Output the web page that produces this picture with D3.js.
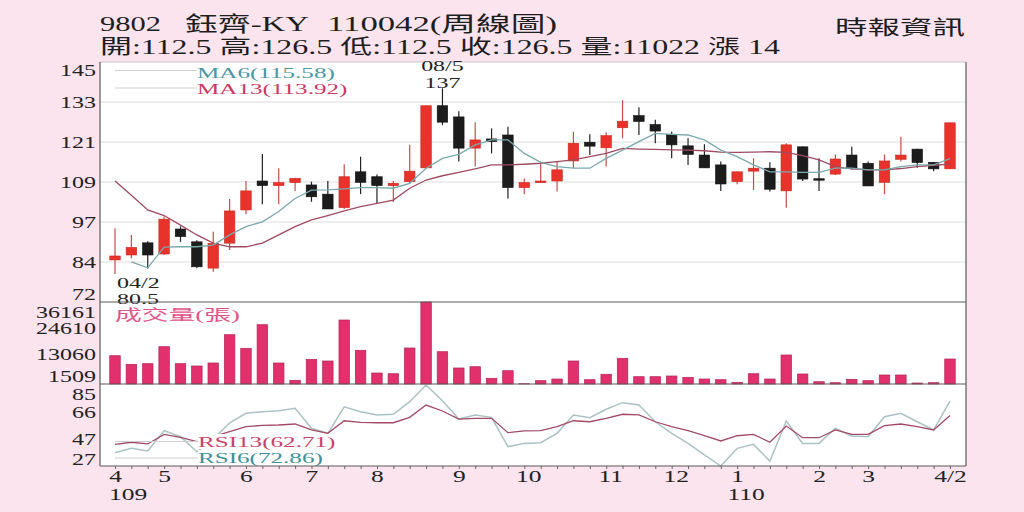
<!DOCTYPE html>
<html><head><meta charset="utf-8">
<script src="https://cdn.jsdelivr.net/npm/d3@7"></script>
<style>html,body{margin:0;padding:0;background:#fce4ee;} svg{display:block}</style>
</head><body><svg id="c" width="1024" height="512"></svg>
<script>
// ---------- data ----------
const openP = [84.8, 86.3, 90.0, 86.6, 94.2, 90.3, 82.3, 89.9, 100.0, 108.8,
 107.4, 108.3, 107.6, 104.8, 100.7, 111.6, 110.1, 107.4, 108.6, 112.8,
 131.7, 128.3, 118.8, 121.6, 122.8, 106.8, 108.3, 108.8, 114.9, 120.6,
 118.9, 125.0, 128.7, 126.0, 123.0, 119.5, 116.7, 113.7, 108.6, 111.8,
 112.7, 105.8, 119.2, 109.5, 110.9, 116.7, 114.2, 108.4, 115.4, 118.5,
 114.5, 112.5];
const highP = [94.4, 92.4, 90.5, 98.0, 95.0, 90.8, 93.4, 103.3, 108.8, 117.0,
 112.7, 109.8, 108.6, 108.8, 113.9, 116.2, 110.8, 108.8, 119.8, 131.7,
 137.0, 130.0, 126.7, 124.8, 125.3, 109.6, 114.7, 114.9, 123.8, 123.0,
 123.6, 133.4, 131.2, 127.4, 123.8, 121.8, 120.0, 114.7, 111.6, 115.7,
 114.5, 120.3, 119.3, 115.7, 116.9, 119.2, 114.7, 116.9, 122.3, 118.6,
 114.5, 126.5];
const lowP = [80.5, 85.3, 82.2, 86.3, 90.3, 82.3, 81.2, 87.8, 98.7, 101.7,
 101.7, 105.8, 102.5, 100.3, 100.3, 104.8, 102.0, 102.4, 108.1, 112.8,
 125.8, 114.7, 113.2, 117.2, 103.5, 104.8, 108.3, 105.6, 112.7, 116.7,
 113.2, 121.8, 122.8, 120.3, 115.7, 113.7, 112.8, 105.8, 107.8, 106.1,
 105.6, 100.7, 108.8, 105.8, 110.6, 112.2, 107.3, 104.8, 114.7, 112.8,
 111.8, 112.5];
const closeP = [86.0, 88.6, 86.3, 97.2, 91.9, 82.7, 89.8, 99.7, 105.8, 107.4,
 108.3, 109.6, 104.0, 100.3, 110.1, 108.4, 107.4, 108.1, 111.8, 131.7,
 126.7, 118.8, 121.3, 120.8, 106.8, 108.3, 108.8, 112.2, 120.3, 119.4,
 122.6, 127.0, 126.9, 124.0, 119.8, 116.9, 112.8, 107.9, 111.6, 112.7,
 106.3, 119.8, 109.4, 109.4, 115.5, 112.7, 107.3, 114.9, 116.7, 114.4,
 112.5, 126.5];
const volume = [12480, 8680, 8960, 16450, 8960, 7940, 9260, 21740, 15740, 26150,
 9260, 1630, 10890, 10140, 28220, 14860, 4850, 4540, 15880, 36161,
 14240, 7060, 7630, 2510, 5870, 120, 1460, 2200, 10140, 1900,
 4280, 11330, 3220, 3220, 3530, 2940, 2200, 1900, 750, 4540,
 2200, 12790, 4410, 1010, 570, 2070, 1460, 3970, 3970, 440,
 570, 11022];
const ma6 = [null, 84.2, 82.4, 88.7, 88.8, 88.8, 89.3, 92.4, 94.9, 96.4,
 99.5, 103.5, 106.0, 106.1, 106.4, 106.8, 106.8, 106.6, 108.1, 112.7,
 115.7, 116.9, 119.8, 121.3, 121.3, 117.2, 114.5, 113.2, 112.7, 112.7,
 115.7, 118.2, 120.8, 123.3, 123.0, 122.8, 121.3, 118.2, 116.2, 113.7,
 111.6, 111.6, 111.4, 111.4, 112.7, 112.7, 112.2, 112.2, 113.2, 113.7,
 113.7, 115.58];
const ma13 = [108.8, 104.5, 100.0, 98.3, 95.4, 92.4, 89.9, 88.8, 88.8, 89.9,
 92.4, 94.9, 97.0, 98.3, 99.7, 101.0, 102.0, 103.0, 106.6, 109.1,
 110.4, 111.4, 112.5, 113.7, 113.7, 113.9, 114.2, 114.7, 115.2, 116.2,
 117.2, 118.7, 118.5, 118.4, 118.3, 118.2, 118.0, 117.6, 117.5, 117.6,
 117.7, 117.5, 116.5, 115.2, 113.2, 112.5, 112.2, 112.2, 112.6, 113.2,
 113.6, 113.92];
const rsi13 = [42.3, 43.8, 42.6, 49.4, 47.3, 44.2, 47.7, 51.3, 54.8, 55.8,
 56.0, 56.7, 52.5, 50.1, 59.0, 57.9, 57.6, 57.6, 61.4, 70.1,
 65.9, 60.2, 60.7, 60.7, 50.6, 51.8, 52.0, 54.8, 59.0, 58.3,
 60.7, 63.6, 63.1, 58.3, 54.8, 52.0, 48.4, 44.7, 48.4, 49.4,
 43.8, 55.3, 47.0, 47.0, 52.5, 49.4, 49.4, 55.5, 56.7, 54.8,
 52.5, 62.71];
const rsi6 = [36.4, 39.5, 37.6, 52.0, 47.7, 37.1, 46.0, 57.6, 64.3, 65.4,
 66.1, 67.8, 53.7, 50.1, 68.9, 65.4, 63.1, 63.6, 72.5, 84.3,
 73.2, 60.2, 63.1, 61.4, 40.7, 43.0, 43.5, 50.1, 63.1, 61.2,
 67.1, 71.8, 70.1, 58.3, 50.1, 43.0, 34.8, 27.0, 39.5, 42.3,
 30.5, 58.8, 43.0, 43.0, 53.7, 48.2, 47.7, 61.9, 64.3, 58.3,
 52.5, 72.86];
const priceTickLabels = ["72", "84", "97", "109", "121", "133", "145"];
const volTicks = [1509, 13060, 24610, 36161];
const rsiTicks = [27, 47, 66, 85];
const monthLabels = ["4", "5", "6", "7", "8", "9", "10", "11", "12", "1", "2", "3", "4/2"];
const monthWeek = [0, 3, 8, 12, 16, 21, 25, 30, 34, 38, 43, 46, 51];
const yearLabels = ["109", "110"];
const yearWeek = [0, 38];
const titleParts = ["9802", "鈺齊-KY", "110042(周線圖)"];
const infoLine = "開:112.5 高:126.5 低:112.5 收:126.5 量:11022 漲 14";
const source = "時報資訊";
const lowMark = {week: 0, date: "04/2", value: "80.5"};
const highMark = {week: 20, date: "08/5", value: "137"};
const legendMA = [{name: "MA6(115.58)", color: "#4b97a2"}, {name: "MA13(113.92)", color: "#cc3a64"}];
const legendRSI = [{name: "RSI13(62.71)", color: "#c8416c"}, {name: "RSI6(72.86)", color: "#3f8f99"}];

// ---------- layout ----------
const L = 100, R = 966, T = 62, P1 = 302, P2 = 384, B = 466;
const FONT = "'Liberation Serif','Times New Roman','Noto Sans CJK TC',serif";
const SX = 1.5;
const n = closeP.length;
const svg = d3.select("#c").attr("font-family", FONT);

const x = d3.scaleLinear().domain([0, n - 1]).range([115, 950]);
const yP = d3.scaleLinear().domain([72, 145]).range([P1, T]);
const yV = d3.scaleLinear().domain([0, 36161]).range([P2, P1]);
const yR = d3.scaleLinear().domain([27, 85]).range([B, P2]).clamp(true);
const priceTickVals = d3.range(priceTickLabels.length).map(i => 72 + i * (145 - 72) / (priceTickLabels.length - 1));

svg.append("rect").attr("width", 1024).attr("height", 512).attr("fill", "#fce4ee");
svg.append("rect").attr("x", L).attr("y", T).attr("width", R - L).attr("height", B - T).attr("fill", "#fff");

// grid lines (price)
svg.append("g").selectAll("line").data(priceTickVals.slice(1)).join("line")
  .attr("x1", L).attr("x2", R).attr("y1", d => yP(d)).attr("y2", d => yP(d))
  .attr("stroke", d => d === priceTickVals[priceTickVals.length - 1] ? "#c8c8c8" : "#dedede").attr("stroke-width", 1);

// ---------- header ----------
function stretchText(px, py, s, len, size, fill) {
  return svg.append("text").attr("x", px).attr("y", py).attr("font-size", size)
    .attr("fill", fill || "#1e1e1e").attr("textLength", len).attr("lengthAdjust", "spacingAndGlyphs").text(s);
}
stretchText(100, 31, titleParts[0], 61, 21);
stretchText(185, 31, titleParts[1], 124, 21);
stretchText(327, 31, titleParts[2], 230, 21);
stretchText(100, 54, infoLine, 680, 20);
stretchText(835, 35, source, 130, 20);

// ---------- axes ----------
function styleLeftAxis(g, lo, hi, off) {
  g.select(".domain").remove();
  g.selectAll(".tick text")
    .attr("x", 0).attr("dy", "0.35em").attr("font-size", 16).attr("fill", "#222").attr("font-family", FONT)
    .attr("transform", function () {
      const ty = +this.parentNode.getAttribute("transform").match(/,([\-\d.]+)/)[1];
      const shift = Math.max(lo, Math.min(hi, ty)) - ty + (off || 0);
      return `translate(-4,${shift}) scale(${SX},1)`;
    });
}
svg.append("g").attr("transform", `translate(${L},0)`)
  .call(d3.axisLeft(yP).tickValues(priceTickVals).tickFormat((d, i) => priceTickLabels[i]).tickSize(0))
  .call(g => styleLeftAxis(g, 70, 294, 0));
svg.append("g").attr("transform", `translate(${L},0)`)
  .call(d3.axisLeft(yV).tickValues(volTicks).tickFormat(d3.format("d")).tickSize(0))
  .call(g => styleLeftAxis(g, 312, 376, 0));
svg.append("g").attr("transform", `translate(${L},0)`)
  .call(d3.axisLeft(yR).tickValues(rsiTicks).tickFormat(d3.format("d")).tickSize(0))
  .call(g => styleLeftAxis(g, 393, 458, 1.5));

// weekly ticks
svg.append("g").attr("transform", `translate(0,${B})`)
  .call(d3.axisBottom(x).tickValues(d3.range(n)).tickSize(3).tickFormat(""))
  .call(g => { g.select(".domain").remove(); g.selectAll(".tick line").attr("stroke", "#666"); });
// month labels
svg.append("g").attr("transform", `translate(0,${B})`)
  .call(d3.axisBottom(x).tickValues(monthWeek).tickSize(0).tickFormat((d, i) => monthLabels[i]))
  .call(g => {
    g.select(".domain").remove();
    g.selectAll(".tick text").attr("y", 0).attr("dy", 0).attr("font-size", 17).attr("fill", "#222")
      .attr("font-family", FONT)
      .attr("transform", (d, i) => `translate(${monthLabels[i].length === 2 ? 4 : 0},16) scale(${SX},1)`);
  });
svg.append("g").selectAll("text").data(yearLabels).join("text")
  .attr("transform", (d, i) => `translate(${x(yearWeek[i]) + (i === 0 ? 13 : 9)},500) scale(${SX},1)`)
  .attr("text-anchor", "middle").attr("font-size", 17).attr("fill", "#222").text(d => d);

// ---------- candles ----------
const cw = 10.5;
const cg = svg.append("g");
const idx = d3.range(n);
const up = i => closeP[i] >= openP[i];
cg.selectAll("line.w").data(idx).join("line").attr("class", "w")
  .attr("x1", i => x(i)).attr("x2", i => x(i))
  .attr("y1", i => yP(highP[i])).attr("y2", i => yP(lowP[i]))
  .attr("stroke", i => up(i) ? "#c0504a" : "#222").attr("stroke-width", 1.2);
cg.selectAll("rect").data(idx).join("rect")
  .attr("x", i => x(i) - cw / 2).attr("width", cw)
  .attr("y", i => Math.min(yP(openP[i]), yP(closeP[i])))
  .attr("height", i => Math.max(1.5, Math.abs(yP(openP[i]) - yP(closeP[i]))))
  .attr("fill", i => up(i) ? "#e8322b" : "#1c1c1c")
  .attr("stroke", i => up(i) ? "#c9281f" : "#111").attr("stroke-width", 0.6);

// MA lines
const lineP = d3.line().defined(d => d[1] != null).x(d => x(d[0])).y(d => yP(d[1]));
svg.append("path").datum(ma13.map((v, i) => [i, v])).attr("d", lineP)
  .attr("fill", "none").attr("stroke", "#a04a62").attr("stroke-width", 1.3);
svg.append("path").datum(ma6.map((v, i) => [i, v])).attr("d", lineP)
  .attr("fill", "none").attr("stroke", "#7aa9ad").attr("stroke-width", 1.3);

// MA legend
legendMA.forEach((d, k) => {
  const ly = [70.5, 88][k];
  svg.append("line").attr("x1", 115).attr("x2", 197).attr("y1", ly).attr("y2", ly).attr("stroke", "#cfcfcf");
  svg.append("text").attr("transform", `translate(197,${[77.5, 94][k]}) scale(1.62,1)`)
    .attr("font-size", 15.5).attr("fill", d.color).text(d.name);
});

// high / low marks
svg.append("text").attr("transform", `translate(${x(highMark.week)},71) scale(1.6,1)`)
  .attr("text-anchor", "middle").attr("font-size", 15).attr("fill", "#222").text(highMark.date);
svg.append("text").attr("transform", `translate(${x(highMark.week)},87.5) scale(1.6,1)`)
  .attr("text-anchor", "middle").attr("font-size", 15).attr("fill", "#222").text(highMark.value);
svg.append("text").attr("transform", `translate(${x(lowMark.week) + 2},288) scale(1.6,1)`)
  .attr("font-size", 15).attr("fill", "#222").text(lowMark.date);

// ---------- volume ----------
svg.append("g").selectAll("rect").data(idx).join("rect")
  .attr("x", i => x(i) - 5.25).attr("width", 10.5)
  .attr("y", i => yV(volume[i])).attr("height", i => P2 - yV(volume[i]))
  .attr("fill", "#e2306d").attr("stroke", "#b3245a").attr("stroke-width", 0.7);
stretchText(115, 320, "成交量(張)", 125, 15, "#e0558a");

// ---------- RSI ----------
const lineR = d3.line().x(d => x(d[0])).y(d => yR(d[1]));
svg.append("path").datum(rsi6.map((v, i) => [i, v])).attr("d", lineR)
  .attr("fill", "none").attr("stroke", "#abc3c3").attr("stroke-width", 1.5);
svg.append("path").datum(rsi13.map((v, i) => [i, v])).attr("d", lineR)
  .attr("fill", "none").attr("stroke", "#a34b66").attr("stroke-width", 1.3);
legendRSI.forEach((d, k) => {
  const ly = [441.5, 458][k];
  svg.append("line").attr("x1", 115).attr("x2", 198).attr("y1", ly).attr("y2", ly).attr("stroke", "#cfcfcf");
  svg.append("rect").attr("x", 198).attr("y", [434, 450][k]).attr("width", [141, 130][k]).attr("height", 15).attr("fill", "#fff");
  svg.append("text").attr("transform", `translate(198,${[446.5, 463][k]}) scale(1.62,1)`)
    .attr("font-size", 15.5).attr("fill", d.color).text(d.name);
});

// low value label (drawn over panel border)
svg.append("text").attr("transform", `translate(${x(lowMark.week) + 2},304) scale(1.6,1)`)
  .attr("font-size", 15).attr("fill", "#222").text(lowMark.value);

// ---------- frame ----------
const fr = svg.append("g").attr("stroke", "#5a5a5a").attr("stroke-width", 1.2);
fr.append("line").attr("x1", L).attr("x2", L).attr("y1", T).attr("y2", B);
fr.append("line").attr("x1", R).attr("x2", R).attr("y1", T).attr("y2", B);
[P1, P2, B].forEach(yy => fr.append("line").attr("x1", L).attr("x2", R).attr("y1", yy).attr("y2", yy));
</script></body></html>
